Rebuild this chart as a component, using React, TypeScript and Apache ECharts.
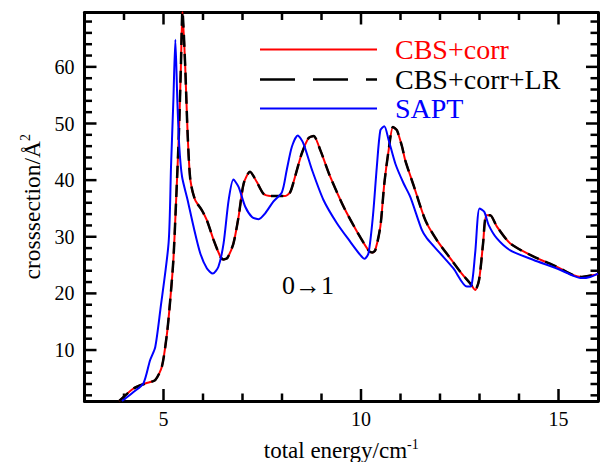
import React, { useEffect, useRef } from "react";
import * as echarts from "echarts";

// CBS+corr (and CBS+corr+LR, which coincides with it)
const cbsEnergy = [3.88, 4.24, 4.54, 4.79, 4.96, 5.09, 5.17, 5.25, 5.32, 5.39, 5.44, 5.48, 5.55, 5.61, 5.68, 5.8, 5.97, 6.1, 6.27, 6.44, 6.52, 6.62, 6.77, 6.9, 7.03, 7.19, 7.36, 7.53, 7.7, 8.08, 8.21, 8.33, 8.5, 8.67, 8.8, 8.97, 9.22, 9.56, 9.9, 10.19, 10.28, 10.36, 10.49, 10.59, 10.7, 10.81, 10.91, 11.04, 11.12, 11.33, 11.63, 11.92, 12.26, 12.55, 12.76, 12.89, 12.99, 13.09, 13.17, 13.27, 13.44, 13.78, 14.37, 14.96, 15.38, 15.59, 15.85, 16.0];
const cbsCross = [1.0, 3.2, 4.1, 4.7, 7.1, 13, 18.8, 25.9, 36.5, 48.3, 60, 69.8, 60, 48.3, 40, 36.5, 34.7, 32.9, 29.4, 26.5, 26.0, 26.3, 28.8, 33.5, 39.4, 41.5, 39.7, 37.6, 37.2, 37.2, 37.9, 40.6, 44.7, 47.4, 47.8, 45.3, 40.6, 35.3, 30.9, 27.6, 27.2, 27.6, 31.8, 39.4, 45.3, 49.4, 48.8, 45.9, 43.5, 39.1, 32.9, 29.4, 26.2, 23.5, 21.8, 20.6, 22.4, 28.8, 33.8, 33.8, 31.8, 28.8, 26.5, 24.7, 23.2, 22.9, 23.2, 23.4];

// SAPT
const saptEnergy = [3.95, 4.24, 4.49, 4.66, 4.79, 4.92, 5.13, 5.19, 5.25, 5.3, 5.35, 5.4, 5.47, 5.61, 5.76, 5.93, 6.1, 6.25, 6.39, 6.52, 6.65, 6.77, 6.9, 7.07, 7.24, 7.41, 7.57, 7.78, 8.0, 8.12, 8.25, 8.4, 8.54, 8.76, 9.05, 9.39, 9.73, 9.98, 10.09, 10.19, 10.3, 10.4, 10.49, 10.59, 10.7, 10.87, 11.08, 11.25, 11.54, 11.67, 12.0, 12.34, 12.68, 12.79, 12.89, 13.0, 13.12, 13.23, 13.44, 13.78, 14.37, 14.96, 15.38, 15.59, 15.8, 16.0];
const saptCross = [1.0, 2.6, 4.1, 8.2, 10.5, 17.1, 29.0, 42.3, 54.1, 64.8, 54.1, 45.9, 40.6, 36.5, 31.8, 27.1, 24.4, 23.5, 24.7, 28.8, 36.5, 40.1, 38.8, 35.3, 33.5, 33.1, 34.1, 36.2, 37.9, 41.8, 45.9, 47.9, 46.5, 41.8, 36.5, 32.4, 29.1, 26.8, 26.1, 27.1, 33.5, 42.3, 48.8, 49.5, 47.1, 42.9, 39.4, 37.0, 31.2, 29.7, 27.1, 24.4, 21.2, 21.3, 27.1, 35.0, 34.4, 32.1, 29.7, 27.6, 25.9, 24.4, 23.1, 22.7, 22.9, 23.5];

const xMajorTicks = [5, 10, 15];
const xMinorTicks = [4, 6, 7, 8, 9, 11, 12, 13, 14];
const yMajorTicks = [10, 20, 30, 40, 50, 60];
const yMinorTicks = [2, 4, 6, 8, 12, 14, 16, 18, 22, 24, 26, 28, 32, 34, 36, 38, 42, 44, 46, 48, 52, 54, 56, 58, 62, 64, 66, 68];

const seriesNames = ["CBS+corr", "CBS+corr+LR", "SAPT"];
const seriesColors = ["#ff0000", "#000000", "#0000ff"];

const FONT = '"Liberation Serif", "Times New Roman", serif';
const X_MIN = 3, X_MAX = 16, Y_MIN = 1, Y_MAX = 69.6;
const MAJOR_LEN = 12, MINOR_LEN = 7.5, TICK_W = 2.5;

export default function App() {
  const ref = useRef<HTMLDivElement>(null);
  useEffect(() => {
    if (!ref.current) return;
    const chart = echarts.init(ref.current, undefined, { renderer: "svg" });
    const cbsData = cbsEnergy.map((x, i) => [x, cbsCross[i]]);
    const saptData = saptEnergy.map((x, i) => [x, saptCross[i]]);
    const frame = () => ({ show: true, onZero: false, lineStyle: { color: "#000", width: 3 } });
    const supRich = { sup: { fontFamily: FONT, fontSize: 14, color: "#000", padding: [0, 0, 12, 0] } };

    const xBottom: any = {
      type: "value", min: X_MIN, max: X_MAX, position: "bottom",
      axisLine: frame(), axisTick: { show: false },
      axisLabel: { show: true, customValues: xMajorTicks, fontFamily: FONT, fontSize: 20, color: "#000", margin: 8 },
      splitLine: { show: false },
      name: "total energy/cm{sup|-1}", nameLocation: "middle", nameGap: 36,
      nameTextStyle: { fontFamily: FONT, fontSize: 23, color: "#000", rich: supRich },
    };
    const xTop: any = {
      type: "value", min: X_MIN, max: X_MAX, position: "top",
      axisLine: frame(), axisTick: { show: false }, axisLabel: { show: false }, splitLine: { show: false },
    };
    const yLeft: any = {
      type: "value", min: Y_MIN, max: Y_MAX, position: "left",
      axisLine: frame(), axisTick: { show: false },
      axisLabel: { show: true, customValues: yMajorTicks, fontFamily: FONT, fontSize: 20, color: "#000", margin: 10 },
      splitLine: { show: false },
      name: "crosssection/Å{sup|2}", nameLocation: "middle", nameGap: 39,
      nameTextStyle: { fontFamily: FONT, fontSize: 23.5, color: "#000", rich: supRich },
    };
    const yRight: any = {
      type: "value", min: Y_MIN, max: Y_MAX, position: "right",
      axisLine: frame(), axisTick: { show: false }, axisLabel: { show: false }, splitLine: { show: false },
    };

    const lineSeries = (idx: number, data: number[][], extra: any = {}) => ({
      name: seriesNames[idx], type: "line", data, symbol: "none", showSymbol: false, smooth: 0.25,
      xAxisIndex: 0, yAxisIndex: 0,
      lineStyle: { color: seriesColors[idx], width: 2, ...extra },
      itemStyle: { color: seriesColors[idx] },
      z: 2 + idx,
    });

    chart.setOption({
      animation: false,
      backgroundColor: "#ffffff",
      grid: { left: 84.5, right: 2, top: 12.5, bottom: 61, containLabel: false, outerBoundsMode: "none" },
      xAxis: [xBottom, xTop],
      yAxis: [yLeft, yRight],
      series: [
        lineSeries(0, cbsData),
        lineSeries(1, cbsData, { width: 2.5, type: [12, 7] }),
        lineSeries(2, saptData),
      ],
    });

    // Legend samples and texts
    const legendY = [49.5, 79.5, 108.5];
    const graphics: any[] = [];
    seriesNames.forEach((name, i) => {
      graphics.push({
        type: "line", shape: { x1: 260, y1: legendY[i], x2: 377, y2: legendY[i] },
        style: { stroke: seriesColors[i], lineWidth: i === 1 ? 2.5 : 2, lineDash: i === 1 ? [35, 18] : null },
      });
      graphics.push({
        type: "text", x: 395, y: legendY[i],
        style: { text: name, font: `28px ${FONT}`, fill: seriesColors[i], verticalAlign: "middle", align: "left" },
      });
    });
    graphics.push({ type: "text", left: 282, top: 272, style: { text: "0→1", font: `26px ${FONT}`, fill: "#000" } });

    // Inward ticks on all four sides, positioned through the chart's own axes
    const toPx = (v: number[]) => chart.convertToPixel({ gridIndex: 0 } as any, v) as number[];
    const addX = (v: number, len: number) => {
      const b = toPx([v, Y_MIN]);
      const t = toPx([v, Y_MAX]);
      graphics.push({ type: "rect", shape: { x: b[0] - TICK_W / 2, y: b[1] - len, width: TICK_W, height: len }, style: { fill: "#000" } });
      graphics.push({ type: "rect", shape: { x: t[0] - TICK_W / 2, y: t[1], width: TICK_W, height: len }, style: { fill: "#000" } });
    };
    const addY = (v: number, len: number) => {
      const l = toPx([X_MIN, v]);
      const r = toPx([X_MAX, v]);
      graphics.push({ type: "rect", shape: { x: l[0], y: l[1] - TICK_W / 2, width: len, height: TICK_W }, style: { fill: "#000" } });
      graphics.push({ type: "rect", shape: { x: r[0] - len, y: r[1] - TICK_W / 2, width: len, height: TICK_W }, style: { fill: "#000" } });
    };
    xMajorTicks.forEach((v) => addX(v, MAJOR_LEN));
    xMinorTicks.forEach((v) => addX(v, MINOR_LEN));
    yMajorTicks.forEach((v) => addY(v, MAJOR_LEN));
    yMinorTicks.forEach((v) => addY(v, MINOR_LEN));

    chart.setOption({ graphic: graphics });
    return () => chart.dispose();
  }, []);
  return <div ref={ref} style={{ position: "absolute", left: 0, top: 0, width: 600, height: 462 }} />;
}
